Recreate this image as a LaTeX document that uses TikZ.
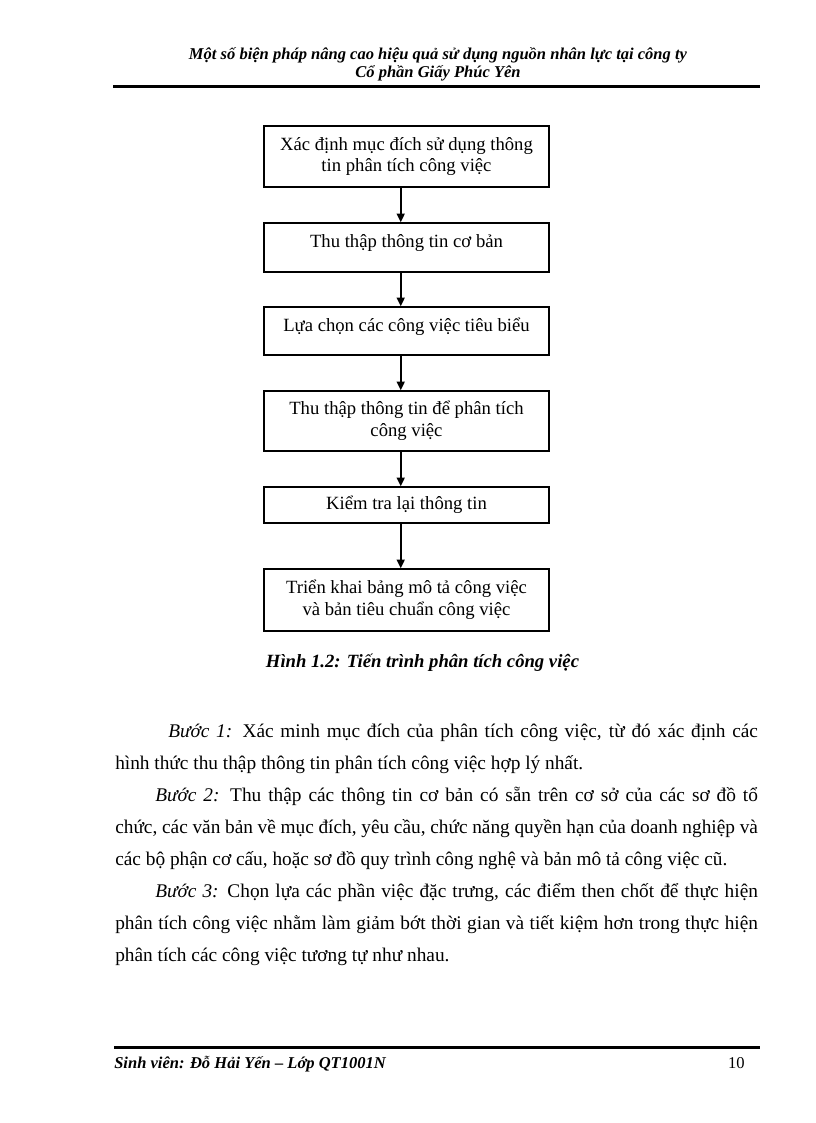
\documentclass[tikz,border=0pt]{standalone}
\usepackage{fontspec}
\setmainfont{Liberation Serif}
\usetikzlibrary{positioning,arrows.meta}

\begin{document}
\begin{tikzpicture}[
x=0.75pt,y=-0.75pt,
>={Triangle[length=6.5pt,width=6pt]},
box/.style={%
    rectangle,
    draw=black,
    line width=1.1pt,
    minimum width=213.75pt,
    inner sep=0pt,
    align=center,
    font=\fontsize{14}{16.3}\selectfont,
},
oneline/.style={%
    box,
    text height=10pt,
    text depth=#1,
},
flow/.style={->,line width=1.2pt},
rule/.style={line width=2.25pt},
heading/.style={font=\fontsize{12.4}{13.5}\selectfont\bfseries\itshape,inner sep=0pt},
]
\fill[white] (0,0) rectangle (816,1123);
\useasboundingbox (0,0) rectangle (816,1123);

% Header
\node[heading,anchor=base] at (438,60) (title)    {Một số biện pháp nâng cao hiệu quả sử dụng nguồn nhân lực tại công ty};
\node[heading,anchor=base] at (438,78) (subtitle) {Cổ phần Giấy Phúc Yên};
\draw[rule] (113,87) -- (760,87);

% Nodes
\node[box,minimum height=45.75pt]      at (406.5,156.5) (purpose)     {Xác định mục đích sử dụng thông\\tin phân tích công việc};
\node[oneline=10pt,minimum height=36.75pt]  at (406.5,247.5) (basicinfo)   {Thu thập thông tin cơ bản};
\node[oneline=10pt,minimum height=36pt]     at (406.5,331)   (selectjobs)  {Lựa chọn các công việc tiêu biểu};
\node[box,minimum height=45pt]         at (406.5,421)   (collectinfo) {Thu thập thông tin để phân tích\\công việc};
\node[oneline=3.6pt,minimum height=27pt]    at (406.5,505)   (checkinfo)   {Kiểm tra lại thông tin};
\node[box,minimum height=46.5pt]       at (406.5,600)   (deploy)      {Triển khai bảng mô tả công việc\\và bản tiêu chuẩn công việc};

\node[anchor=base,inner sep=0pt,font=\fontsize{14}{16}\selectfont\bfseries\itshape] at (422.5,667) (caption) {Hình 1.2: Tiến trình phân tích công việc};

% Lines
\foreach \from/\to in {purpose/basicinfo,basicinfo/selectjobs,selectjobs/collectinfo,collectinfo/checkinfo,checkinfo/deploy}
    \draw[flow] ([xshift=-4.35pt]\from.south) -- ([xshift=-4.35pt]\to.north);

% Text
\node[anchor=base west,inner sep=0pt,text width=482pt,align=justify,font=\fontsize{14.5}{24}\selectfont] at (115,737) (steps) {%
\setlength{\parskip}{0pt}\setlength{\parindent}{0pt}%
\hspace*{39.75pt}\textit{Bước 1:} Xác minh mục đích của phân tích công việc, từ đó xác định các\linebreak
hình thức thu thập thông tin phân tích công việc hợp lý nhất.\par
\hspace*{30pt}\textit{Bước 2:} Thu thập các thông tin cơ bản có sẵn trên cơ sở của các sơ đồ tổ\linebreak
chức, các văn bản về mục đích, yêu cầu, chức năng quyền hạn của doanh nghiệp và\linebreak
các bộ phận cơ cấu, hoặc sơ đồ quy trình công nghệ và bản mô tả công việc cũ.\par
\hspace*{30pt}\textit{Bước 3:} Chọn lựa các phần việc đặc trưng, các điểm then chốt để thực hiện\linebreak
phân tích công việc nhằm làm giảm bớt thời gian và tiết kiệm hơn trong thực hiện\linebreak
phân tích các công việc tương tự như nhau.\par};

% Footer
\draw[rule] (114,1047) -- (760,1047);
\node[heading,anchor=base west] at (114,1068) (student) {Sinh viên: Đỗ Hải Yến – Lớp QT1001N};
\node[anchor=base east,inner sep=0pt,font=\fontsize{12.4}{14}\selectfont] at (745,1068) (pageno) {10};
\end{tikzpicture}
\end{document}
